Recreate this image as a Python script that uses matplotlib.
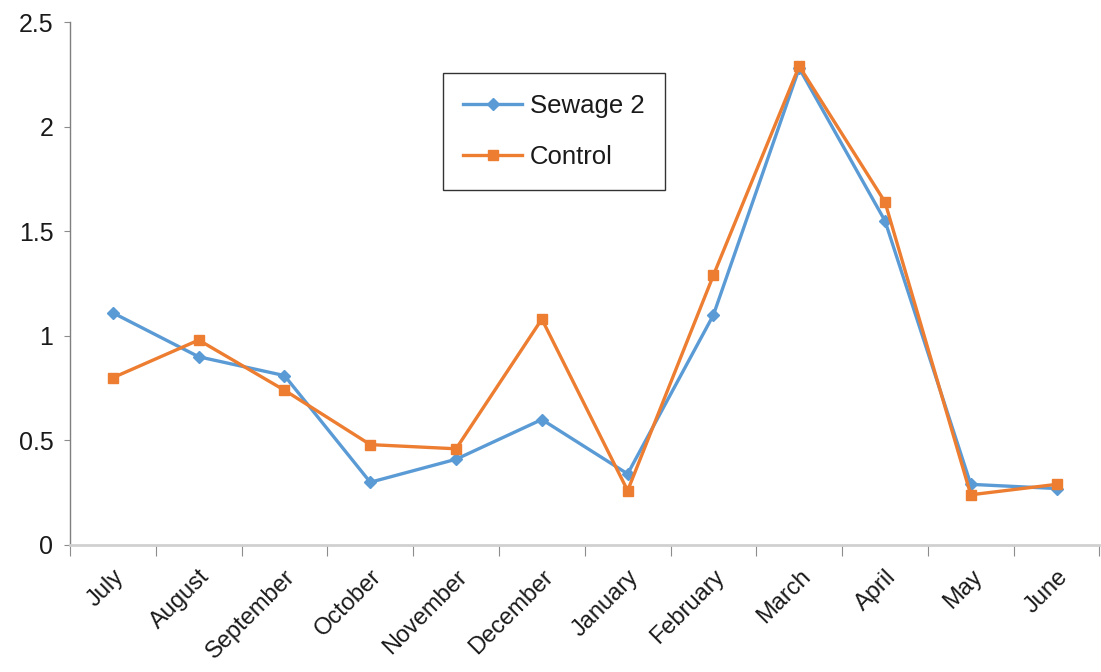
import numpy as np
import matplotlib
matplotlib.use('Agg')
import matplotlib.pyplot as plt
from matplotlib.ticker import FormatStrFormatter, FixedLocator

# ── DATA ──────────────────────────────────────────────────────────────────────
MONTHS  = ['July', 'August', 'September', 'October', 'November', 'December',
           'January', 'February', 'March', 'April', 'May', 'June']
SEWAGE2 = [1.11, 0.90, 0.81, 0.30, 0.41, 0.60, 0.34, 1.10, 2.28, 1.55, 0.29, 0.27]
CONTROL = [0.80, 0.98, 0.74, 0.48, 0.46, 1.08, 0.26, 1.29, 2.29, 1.64, 0.24, 0.29]
Y_TICKS = [0, 0.5, 1, 1.5, 2, 2.5]

BLUE   = '#5B9BD5'
ORANGE = '#ED7D31'

plt.rcParams['font.family'] = ['Liberation Sans', 'DejaVu Sans']

# ── PLOT ──────────────────────────────────────────────────────────────────────
fig = plt.figure(figsize=(11.01, 6.72), dpi=100)
ax = fig.add_axes([0.0636, 0.189, 0.935, 0.778])

x = np.arange(len(MONTHS))
ax.plot(x, SEWAGE2, color=BLUE, linewidth=2.4, marker='D', markersize=6,
        label='Sewage 2')
ax.plot(x, CONTROL, color=ORANGE, linewidth=2.4, marker='s', markersize=7.5,
        label='Control')

ax.set_xlim(-0.5, len(MONTHS) - 0.5)
ax.set_ylim(0, 2.5)

# y axis
ax.set_yticks(Y_TICKS)
ax.yaxis.set_major_formatter(FormatStrFormatter('%g'))
ax.tick_params(axis='y', length=4, width=0.8, color='#8c8c8c',
               labelsize=18, pad=8, labelcolor='#1a1a1a')

# x axis: labels at centres, tick marks at the category borders
ax.set_xticks(x)
ax.set_xticklabels(MONTHS, rotation=45, ha='right', rotation_mode='anchor')
ax.tick_params(axis='x', which='major', length=0, labelsize=17, pad=15,
               labelcolor='#1a1a1a')
ax.xaxis.set_minor_locator(FixedLocator(np.arange(len(MONTHS) + 1) - 0.5))
ax.tick_params(axis='x', which='minor', length=8, width=0.8, color='#8c8c8c',
               direction='out')

# spines
for side in ['top', 'right']:
    ax.spines[side].set_visible(False)
ax.spines['left'].set_color('#7f7f7f')
ax.spines['left'].set_linewidth(1.0)
ax.spines['bottom'].set_color('#d0d0d0')
ax.spines['bottom'].set_linewidth(2.0)

# legend
leg = ax.legend(loc='upper left', bbox_to_anchor=(0.362, 0.902), fontsize=18.5,
                frameon=True, fancybox=False, edgecolor='black',
                labelspacing=1.05, handlelength=2.3, handletextpad=0.3,
                borderpad=0.8, borderaxespad=0)
leg.get_frame().set_linewidth(1.0)
for txt in leg.get_texts():
    txt.set_color('#1a1a1a')

plt.savefig('out.png', dpi=100)
